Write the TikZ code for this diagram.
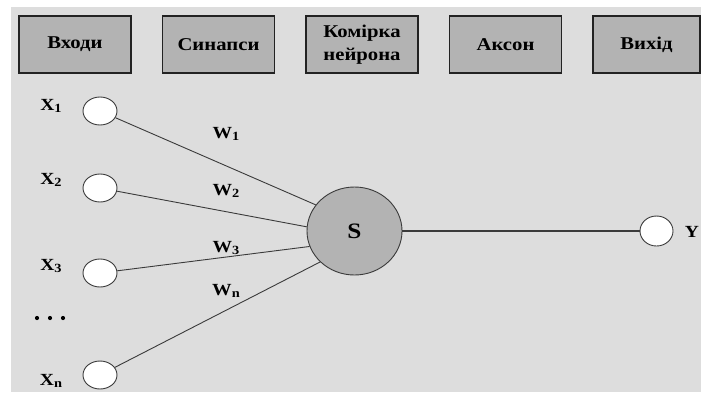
\documentclass[tikz,border=0pt]{standalone}
\usepackage{fontspec}
\setmainfont{Liberation Serif}[FakeStretch=1.15]
\usetikzlibrary{shapes.geometric}
\definecolor{bgc}{HTML}{DDDDDD}
\definecolor{boxc}{HTML}{B3B3B3}
\definecolor{edgec}{HTML}{222222}
\definecolor{linec}{HTML}{3A3A3A}
\newcommand{\sbs}[1]{\raisebox{-0.35ex}{\fontsize{12.5}{12.5}\selectfont\bfseries #1}}
\tikzset{
  hdr/.style={draw=edgec, line width=1.1pt, fill=boxc, minimum width=112pt, minimum height=57pt,
    inner sep=0pt, align=center, font=\fontsize{18}{23}\selectfont\bfseries},
  inp/.style={ellipse, draw=linec, line width=0.9pt, fill=white, minimum width=34pt, minimum height=28pt, inner sep=0pt},
  lbl/.style={inner sep=0pt, font=\fontsize{17}{17}\selectfont\bfseries},
  conn/.style={draw=linec, line width=0.9pt},
  dotn/.style={circle, fill=black, minimum size=4.2pt, inner sep=0pt}
}
\begin{document}
\begin{tikzpicture}[x=1pt,y=-1pt]
\useasboundingbox (0,0) rectangle (701,397);
\fill[bgc] (11,7) rectangle (701,392);
% header boxes
\node[hdr] (b1) at (75,44.5) {Входи};
\node[hdr] (b2) at (218.5,44.5) {Синапси};
\node[hdr] (b3) at (362,44.5) {Комірка\\нейрона};
\node[hdr] (b4) at (505.5,44.5) {Аксон};
\node[hdr, minimum width=107pt] (b5) at (646.5,44.5) {Вихід};
% inputs
\node[inp] (x1) at (100,111) {};
\node[inp] (x2) at (100,188) {};
\node[inp] (x3) at (100,273) {};
\node[inp] (xn) at (100,375) {};
\node[lbl] (lx1) at (51,106) {X\sbs{1}};
\node[lbl] (lx2) at (51,180) {X\sbs{2}};
\node[lbl] (lx3) at (51,266) {X\sbs{3}};
\node[lbl] (lxn) at (51,381) {X\sbs{n}};
\node[dotn] (d1) at (37,318) {};
\node[dotn] (d2) at (50,318) {};
\node[dotn] (d3) at (63,318) {};
% neuron
\node[ellipse, draw=linec, line width=0.9pt, fill=boxc, minimum width=95pt, minimum height=88pt, inner sep=0pt,
  font=\fontsize{22}{22}\selectfont\bfseries] (S) at (354.5,231) {S};
\node[inp, minimum width=33pt, minimum height=30pt] (Y) at (656.5,231) {};
\node[lbl] (ly) at (692,232) {Y};
% weights
\node[lbl] (w1) at (226,134) {W\sbs{1}};
\node[lbl] (w2) at (226,191) {W\sbs{2}};
\node[lbl] (w3) at (226,248) {W\sbs{3}};
\node[lbl] (wn) at (226,291) {W\sbs{n}};
% connectors
\draw[conn] (x1) -- (S.146.6);
\draw[conn] (x2) -- (S.175);
\draw[conn] (x3) -- (S.199);
\draw[conn] (xn) -- (S.222);
\draw[conn, line width=1.3pt] (S) -- (Y);
\end{tikzpicture}
\end{document}
